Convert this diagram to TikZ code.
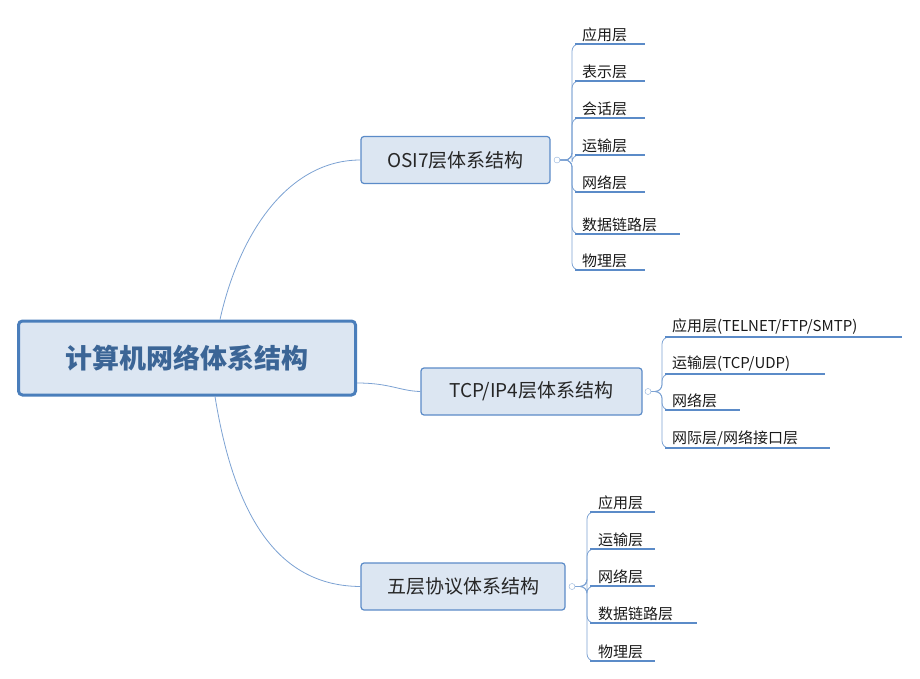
\documentclass[tikz,border=0pt]{standalone}
\usepackage{fontspec}
\setmainfont{Noto Sans CJK SC}
\begin{document}
\begin{tikzpicture}[x=1pt,y=-1pt,
  rootbox/.style={draw=rootblue,line width=3pt,fill=boxfill,rounded corners=4pt,minimum width=337pt,minimum height=74pt,font=\fontsize{27}{30}\selectfont\bfseries,text=rootblue!80!black},
  midbox/.style={draw=midblue,line width=1.2pt,fill=boxfill,rounded corners=3pt,minimum height=47pt,font=\fontsize{19}{22}\selectfont,text=black!85},
  leaf/.style={anchor=south west,inner sep=2pt,font=\fontsize{15}{18}\selectfont,text=black!90},
  uline/.style={draw=midblue,line width=1.6pt},
  conn/.style={draw=midblue!80,line width=0.8pt},
  hubc/.style={circle,draw=midblue!70,fill=white,inner sep=0pt,minimum size=6pt}]
\definecolor{rootblue}{HTML}{4A7EBB}
\definecolor{midblue}{HTML}{5B8BC8}
\definecolor{boxfill}{HTML}{DCE6F2}
\useasboundingbox (0,0) rectangle (920,679);
\node[rootbox] (root) at (187,358) {计算机网络体系结构};
\node[midbox,minimum width=189pt] (osi) at (455.5,160) {OSI7层体系结构};
\node[midbox,minimum width=221pt] (tcp) at (531.5,391.5) {TCP/IP4层体系结构};
\node[midbox,minimum width=204pt] (five) at (463,586.5) {五层协议体系结构};
\draw[conn] (root.north)++(33,0) .. controls (240,230) and (290,160) .. (osi.west);
\draw[conn] (root.east)++(0,25) .. controls (390,383) and (400,391) .. (tcp.west);
\draw[conn] (root.south)++(28,0) .. controls (235,520) and (280,586) .. (five.west);
% OSI leaves
\coordinate (osih) at (557,160);
\foreach \t/\y/\e [count=\i] in {{应用层}/44/645,{表示层}/81/645,{会话层}/118/645,{运输层}/155/645,{网络层}/192/645,{数据链路层}/234/680,{物理层}/270/645}{
  \node[leaf] (o\i) at (580,\y) {\t};
  \draw[conn,rounded corners=7pt] (osih) -- (572,160) -- (572,\y) -- (580,\y);
  \draw[uline] (575,\y) -- (\e,\y);
}
\node[hubc] (osihub) at (osih) {};
% TCP leaves
\coordinate (tcph) at (648,391.5);
\foreach \t/\y/\e [count=\i] in {{应用层(TELNET/FTP/SMTP)}/337/902,{运输层(TCP/UDP)}/374/825,{网络层}/410/740,{网际层/网络接口层}/448/830}{
  \node[leaf] (t\i) at (670,\y) {\t};
  \draw[conn,rounded corners=7pt] (tcph) -- (662,391.5) -- (662,\y) -- (670,\y);
  \draw[uline] (665,\y) -- (\e,\y);
}
\node[hubc] (tcphub) at (tcph) {};
% Five leaves
\coordinate (fiveh) at (572,586.5);
\foreach \t/\y/\e [count=\i] in {{应用层}/512/655,{运输层}/549/655,{网络层}/586/655,{数据链路层}/623/697,{物理层}/661/655}{
  \node[leaf] (f\i) at (596,\y) {\t};
  \draw[conn,rounded corners=7pt] (fiveh) -- (587,586.5) -- (587,\y) -- (596,\y);
  \draw[uline] (590,\y) -- (\e,\y);
}
\node[hubc] (fivehub) at (fiveh) {};
\end{tikzpicture}
\end{document}
